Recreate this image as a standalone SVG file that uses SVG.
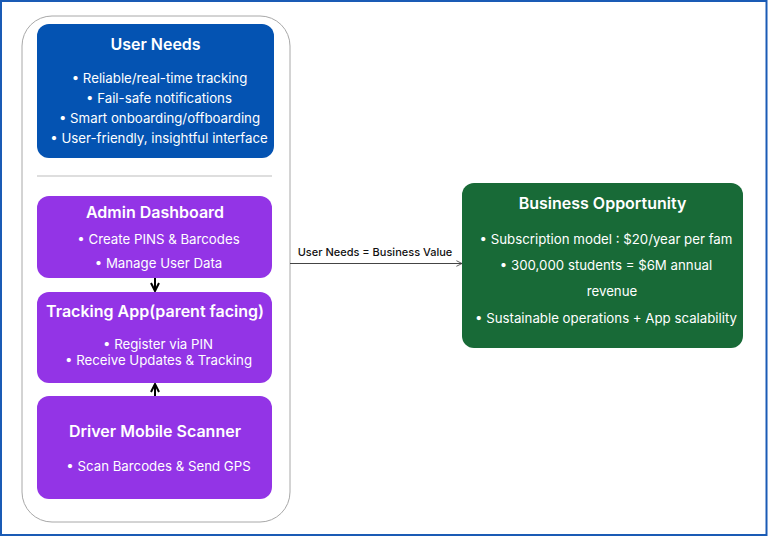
<svg xmlns="http://www.w3.org/2000/svg" width="768" height="537" viewBox="0 0 768 537">
<style>
.t{font-family:Inter,"Noto Sans","Liberation Sans",sans-serif;fill:#fff;text-anchor:middle}
.h{font-size:16px;font-weight:600}
.b{font-size:13.25px;font-weight:400}
.lbl{font-family:Inter,"Noto Sans","Liberation Sans",sans-serif;font-size:11px;font-weight:500;fill:#111;text-anchor:middle}
.purple{fill:#9334e6}
</style>
<defs>
<marker id="ah" viewBox="0 0 10 10" refX="9" refY="5" markerWidth="10" markerHeight="10" markerUnits="userSpaceOnUse" orient="auto">
<path d="M1,1 L9,5 L1,9" fill="none" stroke="#000" stroke-width="2"/>
</marker>
<marker id="ah2" viewBox="0 0 10 10" refX="9" refY="5" markerWidth="7" markerHeight="7" markerUnits="userSpaceOnUse" orient="auto">
<path d="M1,1 L9,5 L1,9" fill="none" stroke="#444" stroke-width="1.2"/>
</marker>
</defs>
<rect x="0" y="0" width="768" height="537" fill="#fff"/>
<rect x="1" y="1" width="765.5" height="534" fill="none" stroke="#1a5bb5" stroke-width="2"/>
<g id="container">
<rect x="22" y="16" width="268" height="506" rx="30" fill="#fff" stroke="#a8a8a8" stroke-width="1"/>
<line x1="37" y1="176" x2="272" y2="176" stroke="#bdbdbd" stroke-width="1"/>
</g>
<g id="user-needs">
<rect x="37" y="24" width="237" height="134" rx="12" fill="#0453b2"/>
<text class="t h" x="155.5" y="50">User Needs</text>
<text class="t b" x="159.5" y="83">• Reliable/real-time tracking</text>
<text class="t b" x="159" y="103">• Fail-safe notifications</text>
<text class="t b" x="159.5" y="123">• Smart onboarding/offboarding</text>
<text class="t b" x="159" y="143">• User-friendly, insightful interface</text>
</g>
<g id="admin-dashboard">
<rect class="purple" x="37" y="196" width="235" height="82" rx="12"/>
<text class="t h" x="155" y="218">Admin Dashboard</text>
<text class="t b" x="158.5" y="244">• Create PINS &amp; Barcodes</text>
<text class="t b" x="158.5" y="268">• Manage User Data</text>
</g>
<g id="tracking-app">
<rect class="purple" x="37" y="292" width="235" height="91" rx="12"/>
<text class="t h" x="155" y="317">Tracking App(parent facing)</text>
<text class="t b" x="158" y="349">• Register via PIN</text>
<text class="t b" x="158.5" y="365">• Receive Updates &amp; Tracking</text>
</g>
<g id="driver-scanner">
<rect class="purple" x="37" y="396" width="235" height="103" rx="12"/>
<text class="t h" x="155" y="437">Driver Mobile Scanner</text>
<text class="t b" x="158.5" y="471">• Scan Barcodes &amp; Send GPS</text>
</g>
<g id="business-opportunity">
<rect x="462" y="183" width="281" height="165" rx="12" fill="#186a37"/>
<text class="t h" x="602.5" y="209">Business Opportunity</text>
<text class="t b" x="606" y="244">• Subscription model : $20/year per fam</text>
<text class="t b" x="606" y="270">• 300,000 students = $6M annual</text>
<text class="t b" x="612" y="296">revenue</text>
<text class="t b" x="606" y="323">• Sustainable operations + App scalability</text>
</g>
<g id="connectors">
<line x1="155" y1="278" x2="155" y2="291" stroke="#000" stroke-width="2" marker-end="url(#ah)"/>
<line x1="155" y1="396" x2="155" y2="384" stroke="#000" stroke-width="2" marker-end="url(#ah)"/>
<line x1="290" y1="263.5" x2="462" y2="263.5" stroke="#444" stroke-width="1" marker-end="url(#ah2)"/>
<text class="lbl" x="375" y="256">User Needs = Business Value</text>
</g>
</svg>
